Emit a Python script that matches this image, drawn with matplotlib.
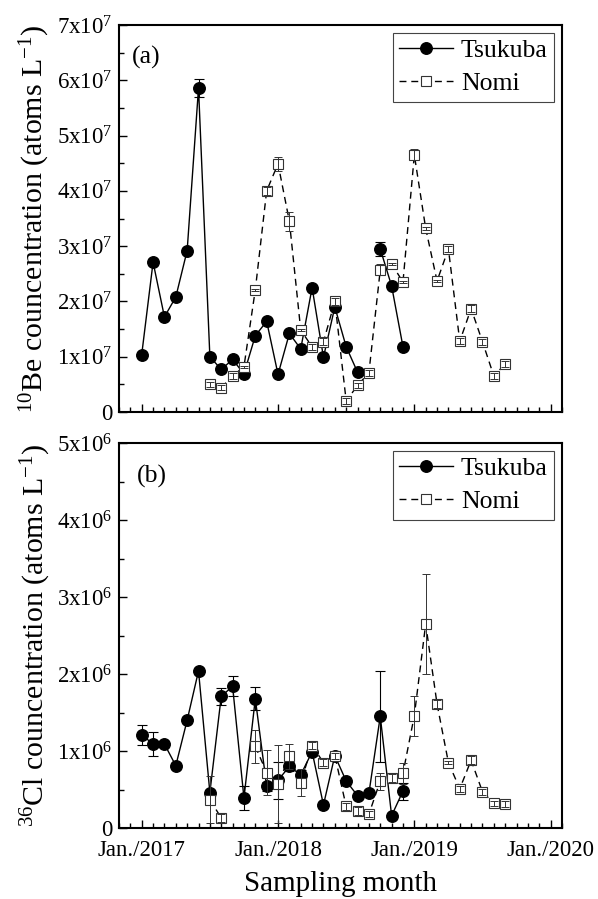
import numpy as np
import matplotlib
matplotlib.use('Agg')
import matplotlib.pyplot as plt
from matplotlib.ticker import FuncFormatter, MultipleLocator

plt.rcParams['font.family'] = ['Liberation Serif', 'DejaVu Serif']
plt.rcParams['mathtext.fontset'] = 'custom'
plt.rcParams['mathtext.rm'] = 'Liberation Serif'
plt.rcParams['mathtext.it'] = 'Liberation Serif:italic'

nan = np.nan

# months counted from Jan. 2017
months_tsu = np.arange(0, 24)
months_nomi = np.arange(6, 33)

# 10Be (units of 1e7 atoms/L)
be_tsu = [1.04, 2.71, 1.72, 2.08, 2.92, 5.86, 1.00, 0.77, 0.95, 0.69, 1.38, 1.64,
          0.68, 1.42, 1.14, 2.25, 0.99, 1.90, 1.18, 0.72, nan, 2.95, 2.28, 1.18]
be_tsu_err = [0.03, 0.05, 0.03, 0.04, 0.05, 0.17, 0.03, 0.03, 0.03, 0.03, 0.03, 0.03,
              0.03, 0.03, 0.03, 0.03, 0.03, 0.03, 0.03, 0.03, nan, 0.12, 0.03, 0.03]
be_nomi = [0.50, 0.44, 0.65, 0.82, 2.21, 4.00, 4.49, 3.45, 1.48, 1.18, 1.27, 2.00,
           0.20, 0.48, 0.71, 2.57, 2.68, 2.35, 4.65, 3.32, 2.37, 2.95, 1.28, 1.87,
           1.27, 0.65, 0.87]
be_nomi_err = [0.05, 0.05, 0.05, 0.02, 0.02, 0.07, 0.13, 0.17, 0.02, 0.05, 0.06, 0.06,
               0.05, 0.05, 0.05, 0.10, 0.02, 0.02, 0.10, 0.02, 0.02, 0.06, 0.05, 0.06,
               0.05, 0.05, 0.05]

# 36Cl (units of 1e6 atoms/L)
cl_tsu = [1.21, 1.09, 1.09, 0.81, 1.40, 2.04, 0.46, 1.71, 1.84, 0.39, 1.68, 0.54,
          0.62, 0.80, 0.69, 0.99, 0.30, 0.94, 0.61, 0.42, 0.45, 1.45, 0.16, 0.48]
cl_tsu_err = [0.13, 0.16, 0.04, 0.04, 0.04, 0.04, 0.04, 0.11, 0.13, 0.15, 0.15, 0.06,
              0.24, 0.06, 0.06, 0.06, 0.04, 0.04, 0.04, 0.04, 0.04, 0.59, 0.04, 0.11]
cl_nomi = [0.37, 0.13, nan, nan, 1.06, 0.72, 0.57, 0.93, 0.59, 1.07, 0.85, 0.94,
           0.28, 0.22, 0.18, 0.61, 0.65, 0.71, 1.46, 2.65, 1.61, 0.85, 0.51, 0.88,
           0.47, 0.32, 0.31]
cl_nomi_err = [0.31, 0.05, nan, nan, 0.21, 0.29, 0.51, 0.16, 0.18, 0.05, 0.04, 0.04,
               0.04, 0.05, 0.04, 0.11, 0.05, 0.14, 0.26, 0.65, 0.05, 0.02, 0.04, 0.05,
               0.04, 0.03, 0.04]

year_ticks = [0, 12, 24, 36]
year_labels = ['Jan./2017', 'Jan./2018', 'Jan./2019', 'Jan./2020']

fig = plt.figure(figsize=(5.98, 8.99), dpi=100)
W, H = 598, 899
ax1 = fig.add_axes([119 / W, 1 - 412 / H, 443 / W, 387 / H])
ax2 = fig.add_axes([119 / W, 1 - 828 / H, 443 / W, 385 / H])


def draw_panel(ax, tsu, tsu_err, nomi, nomi_err, scale):
    tsu = np.array(tsu) * scale
    nomi = np.array(nomi) * scale
    ax.plot(months_tsu, tsu, '-', color='black', lw=1.0, marker='o', ms=8.3,
            mfc='black', mec='black', zorder=2, label='Tsukuba')
    ax.errorbar(months_tsu, tsu, yerr=np.array(tsu_err) * scale, fmt='none',
                ecolor='black', elinewidth=0.8, capsize=3.5, capthick=0.8, zorder=2.5)
    ax.plot(months_nomi, nomi, '--', color='black', lw=1.0, dashes=(5, 3.5),
            marker='s', ms=6.5, mfc='white', mec='#333333', mew=0.8,
            zorder=3, label='Nomi')
    ax.errorbar(months_nomi, nomi, yerr=np.array(nomi_err) * scale, fmt='none',
                ecolor='#333333', elinewidth=0.7, capsize=3.2, capthick=0.7, zorder=3.5)

    ax.set_xlim(-2, 37)
    ax.set_xticks(year_ticks)
    ax.xaxis.set_minor_locator(MultipleLocator(1))
    ax.tick_params(which='both', direction='in', top=False, right=False,
                   labelsize=16.5)
    ax.tick_params(which='major', length=6, width=1.0, pad=5)
    ax.tick_params(axis='x', which='major', pad=9)
    ax.tick_params(which='minor', length=3.5, width=1.0)
    for sp in ax.spines.values():
        sp.set_linewidth(1.5)

    leg = ax.legend(loc='upper right', fontsize=18.5, frameon=True, fancybox=False,
                    edgecolor='#444444', framealpha=1, handlelength=2.1,
                    borderpad=0.25, labelspacing=0.4, handletextpad=0.3,
                    borderaxespad=0.3)
    leg.get_frame().set_linewidth(0.8)


def sci_fmt(exp):
    def f(v, pos):
        if abs(v) < 1e-9:
            return '0'
        return '%dx10$^{%d}$' % (round(v / 10 ** exp), exp)
    return FuncFormatter(f)


draw_panel(ax1, be_tsu, be_tsu_err, be_nomi, be_nomi_err, 1e7)
ax1.set_ylim(0, 7e7)
ax1.yaxis.set_major_locator(MultipleLocator(1e7))
ax1.yaxis.set_minor_locator(MultipleLocator(0.5e7))
ax1.yaxis.set_major_formatter(sci_fmt(7))
ax1.set_xticklabels([])
ax1.set_ylabel('$^{10}$Be councentration (atoms L$^{-1}$)', fontsize=21.5, labelpad=3)
ax1.text(0.029, 0.917, '(a)', transform=ax1.transAxes, fontsize=18.5, va='center')

draw_panel(ax2, cl_tsu, cl_tsu_err, cl_nomi, cl_nomi_err, 1e6)
ax2.set_ylim(0, 5e6)
ax2.yaxis.set_major_locator(MultipleLocator(1e6))
ax2.yaxis.set_minor_locator(MultipleLocator(0.5e6))
ax2.yaxis.set_major_formatter(sci_fmt(6))
ax2.set_xticklabels(year_labels)
ax2.set_ylabel('$^{36}$Cl councentration (atoms L$^{-1}$)', fontsize=21.5, labelpad=3)
ax2.set_xlabel('Sampling month', fontsize=21, labelpad=7)
ax2.text(0.04, 0.912, '(b)', transform=ax2.transAxes, fontsize=18.5, va='center')

fig.savefig('out.png', dpi=100)
